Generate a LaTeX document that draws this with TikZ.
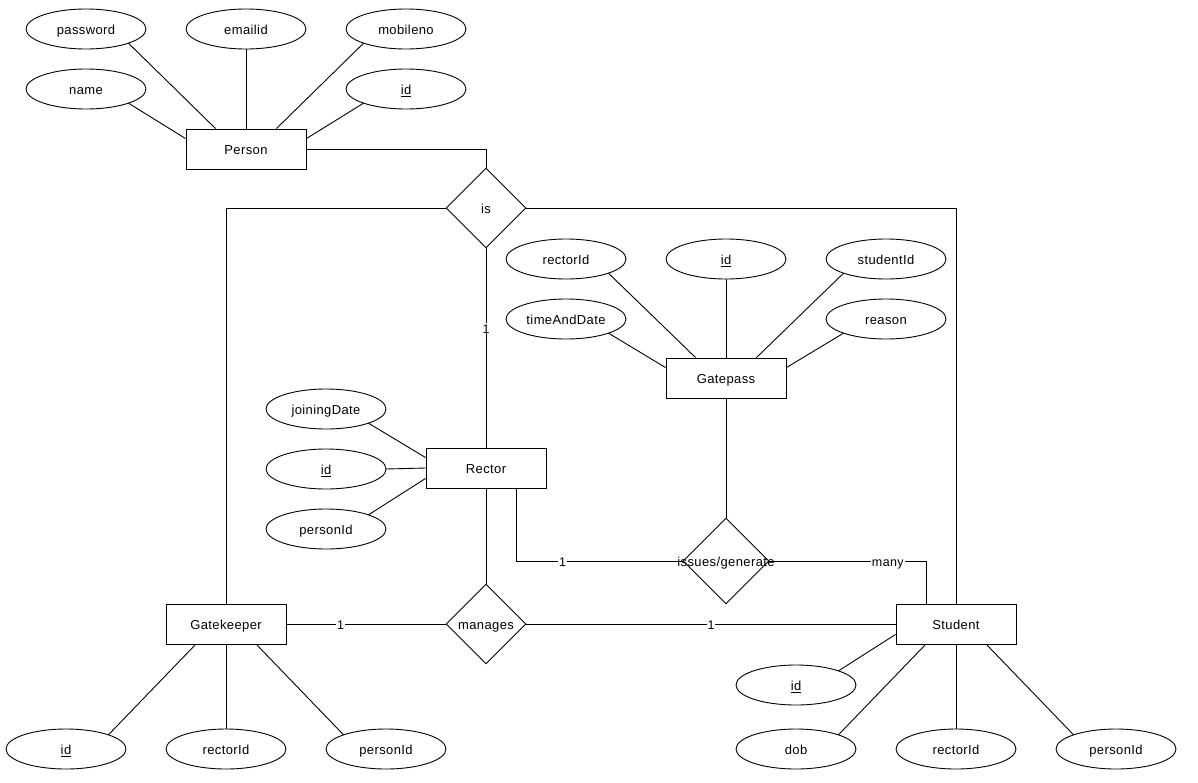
\documentclass[tikz,border=0pt]{standalone}
\usepackage{fontspec}
\setmainfont{Liberation Sans}[LetterSpace=3]
\usetikzlibrary{shapes.geometric}
\tikzset{
  txt/.style={font=\fontsize{13}{15}\selectfont, text height=10.8pt, text depth=0pt},
  attr/.style={draw, ellipse, minimum width=120pt, minimum height=40pt, inner sep=0pt, outer sep=0pt, line width=0.9pt, txt},
  ent/.style={draw, rectangle, minimum width=120pt, minimum height=40pt, inner sep=0pt, line width=0.9pt, txt},
  rel/.style={draw, diamond, minimum width=80pt, minimum height=80pt, inner sep=0pt, line width=0.9pt, txt},
  conn/.style={line width=0.9pt},
  lbl/.style={fill=white, inner xsep=1pt, inner ysep=0pt, font=\fontsize{12.5}{14}\selectfont, text height=10.4pt, text depth=0pt}
}
\begin{document}
\begin{tikzpicture}[x=1pt, y=-1pt]
\useasboundingbox (0,0) rectangle (1198,782);
% Person
\node[ent] (person) at (246,149) {Person};
\node[attr] (ppw) at (86,29) {password};
\node[attr] (pem) at (246,29) {emailid};
\node[attr] (pmob) at (406,29) {mobileno};
\node[attr] (pname) at (86,89) {name};
\node[attr] (pid) at (406,89) {\underline{id}};
\draw[conn] (ppw.south east) -- ([xshift=30pt]person.north west);
\draw[conn] (pem.south) -- (person.north);
\draw[conn] (pmob.south west) -- ([xshift=-30pt]person.north east);
\draw[conn] (pname.south east) -- ([yshift=-10pt]person.north west);
\draw[conn] (pid.south west) -- ([yshift=-10pt]person.north east);
% is
\node[rel] (is) at (486,208) {\makebox[0pt]{is}};
% Gatepass
\node[ent] (gatepass) at (726,378) {Gatepass};
\node[attr] (grid) at (566,259) {rectorId};
\node[attr] (gid) at (726,259) {\underline{id}};
\node[attr] (gsid) at (886,259) {studentId};
\node[attr] (gtd) at (566,319) {timeAndDate};
\node[attr] (greason) at (886,319) {reason};
\draw[conn] (grid.south east) -- ([xshift=30pt]gatepass.north west);
\draw[conn] (gid.south) -- (gatepass.north);
\draw[conn] (gsid.south west) -- ([xshift=-30pt]gatepass.north east);
\draw[conn] (gtd.south east) -- ([yshift=-10pt]gatepass.north west);
\draw[conn] (greason.south west) -- ([yshift=-10pt]gatepass.north east);
% Rector
\node[ent] (rector) at (486,468) {Rector};
\node[attr] (rjd) at (326,409) {joiningDate};
\node[attr] (rid) at (326,469) {\underline{id}};
\node[attr] (rpid) at (326,529) {personId};
\draw[conn] (rjd.south east) -- ([yshift=-10pt]rector.north west);
\draw[conn] (rid.east) -- (rector.west);
\draw[conn] (rpid.north east) -- ([yshift=10pt]rector.south west);
% relationships
\node[rel, minimum width=86pt, minimum height=86pt] (issues) at (726,561) {\makebox[0pt]{issues/generate}};
\node[rel] (manages) at (486,624) {\makebox[0pt]{manages}};
% Gatekeeper
\node[ent] (gk) at (226,624) {Gatekeeper};
\node[attr] (kid) at (66,749) {\underline{id}};
\node[attr] (krid) at (226,749) {rectorId};
\node[attr] (kpid) at (386,749) {personId};
\draw[conn] (kid.north east) -- ([xshift=30pt]gk.south west);
\draw[conn] (krid.north) -- (gk.south);
\draw[conn] (kpid.north west) -- ([xshift=-30pt]gk.south east);
% Student
\node[ent] (student) at (956,624) {Student};
\node[attr] (sid) at (796,685) {\underline{id}};
\node[attr] (sdob) at (796,749) {dob};
\node[attr] (srid) at (956,749) {rectorId};
\node[attr] (spid) at (1116,749) {personId};
\draw[conn] (sid.north east) -- ([yshift=10pt]student.south west);
\draw[conn] (sdob.north east) -- ([xshift=30pt]student.south west);
\draw[conn] (srid.north) -- (student.south);
\draw[conn] (spid.north west) -- ([xshift=-30pt]student.south east);
% connectors
\draw[conn] (person.east) -| (is.north);
\draw[conn] (is.west) -| (gk.north);
\draw[conn] (is.east) -| (student.north);
\draw[conn] (is.south) -- node[lbl, pos=0.4] {1} (rector.north);
\draw[conn] (rector.south) -- (manages.north);
\draw[conn] (gatepass.south) -- (issues.north);
\draw[conn] ([xshift=30pt]rector.south) |- node[lbl, pos=0.64] {1} (issues.west);
\draw[conn] (issues.east) -| node[lbl, pos=0.378] {many} ([xshift=-30pt]student.north);
\draw[conn] (gk.east) -- node[lbl, pos=0.34] {1} (manages.west);
\draw[conn] (manages.east) -- node[lbl, pos=0.5] {1} (student.west);
\end{tikzpicture}
\end{document}
